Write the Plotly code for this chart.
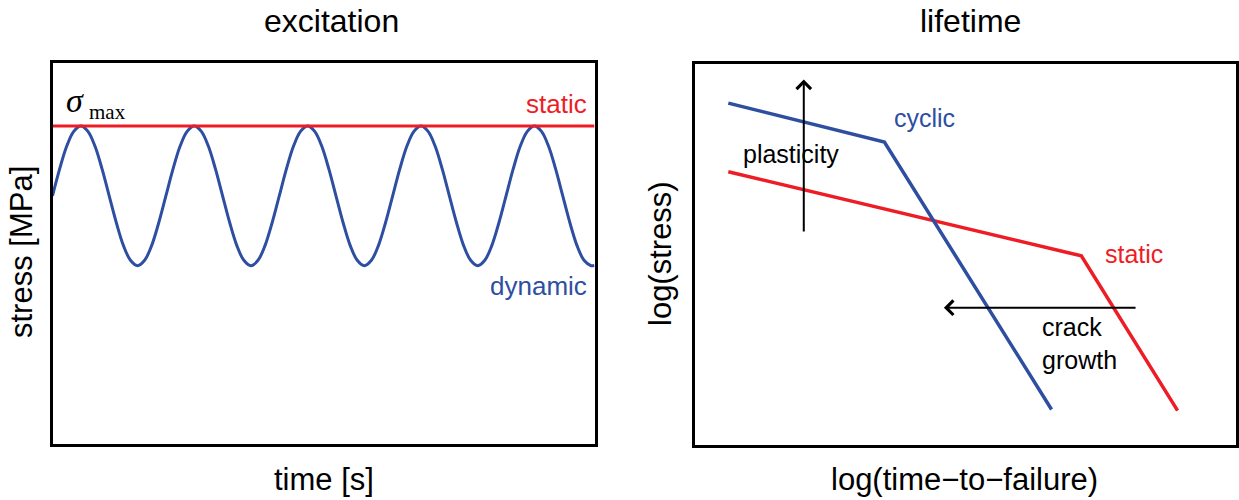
import numpy as np
import plotly.graph_objects as go

W, H = 1239, 500

# --- excitation panel data ---------------------------------------------
# time [s] sampled every sixteenth of a load cycle (period = 1 s)
time_s = np.arange(0, 4.751, 0.0625).tolist() + [4.78]
# one load cycle of the dynamic stress [MPa], starting at the mean level
cycle_stress = [78, 86.4, 93.6, 98.3, 100, 98.3, 93.6, 86.4,
                78, 69.6, 62.4, 57.7, 56, 57.7, 62.4, 69.6]
dynamic_stress = cycle_stress * 4 + cycle_stress[:13] + [56.1]
# static stress = sigma_max
static_time = [0, 4.78]
static_stress = [100, 100]

# --- lifetime panel data (log-log, arbitrary units) --------------------
cyclic_logt = [0.625, 3.51, 6.60]
cyclic_logs = [8.96, 7.94, 0.92]
static_logt = [0.625, 7.15, 8.93]
static_logs = [7.16, 4.95, 0.89]

RED = "#EE1D25"
BLUE = "#2E4EA2"
SANS = "Liberation Sans, Arial, sans-serif"
SERIF = "Liberation Serif, Times New Roman, serif"


def px(x):
    return x / W


def py(y):
    return 1 - y / H


fig = go.Figure()

fig.add_trace(go.Scatter(x=time_s, y=dynamic_stress, mode="lines",
                         line=dict(color=BLUE, width=3, shape="spline", smoothing=1),
                         xaxis="x", yaxis="y", hoverinfo="skip"))
fig.add_trace(go.Scatter(x=static_time, y=static_stress, mode="lines",
                         line=dict(color=RED, width=3),
                         xaxis="x", yaxis="y", hoverinfo="skip"))

fig.add_trace(go.Scatter(x=static_logt, y=static_logs, mode="lines",
                         line=dict(color=RED, width=3.5),
                         xaxis="x2", yaxis="y2", hoverinfo="skip"))
fig.add_trace(go.Scatter(x=cyclic_logt, y=cyclic_logs, mode="lines",
                         line=dict(color=BLUE, width=3.5),
                         xaxis="x2", yaxis="y2", hoverinfo="skip"))

frame = dict(showline=True, linecolor="black", linewidth=3, mirror=True,
             showgrid=False, zeroline=False, showticklabels=False,
             ticks="", fixedrange=True)

fig.update_layout(
    width=W, height=H,
    margin=dict(l=0, r=0, t=0, b=0),
    paper_bgcolor="white", plot_bgcolor="white",
    showlegend=False,
    xaxis=dict(domain=[px(52.5), px(594.5)], range=[0, 4.78], anchor="y", **frame),
    yaxis=dict(domain=[py(443.5), py(62.5)], range=[0, 120], anchor="x", **frame),
    xaxis2=dict(domain=[px(694.5), px(1235.5)], range=[0, 10], anchor="y2", **frame),
    yaxis2=dict(domain=[py(444.5), py(63.5)], range=[0, 10], anchor="x2", **frame),
)

ann = []


def label(text, x, y, size, color="black", family=SANS, xanchor="center",
          angle=0, align="center"):
    ann.append(dict(text=text, x=px(x), y=py(y), xref="paper", yref="paper",
                    showarrow=False, xanchor=xanchor, yanchor="middle",
                    textangle=angle, align=align,
                    font=dict(size=size, color=color, family=family)))


# panel titles and axis titles
label("excitation", 331, 21, 32)
label("lifetime", 970, 21, 32)
label("time [s]", 324, 479, 31)
label("log(time\u2212to\u2212failure)", 964, 479, 31)
label("stress [MPa]", 21, 252, 31, angle=-90)
label("log(stress)", 660, 254, 31, angle=-90)

# excitation panel labels
label("<i>\u03c3</i>", 75, 101, 34, family=SERIF)
label("max", 87, 112, 21, family=SERIF, xanchor="left")
label("static", 589, 104, 26, color=RED, xanchor="right")
label("dynamic", 589, 286, 26, color=BLUE, xanchor="right")

# lifetime panel labels
label("cyclic", 892, 118, 25, color=BLUE, xanchor="left")
label("plasticity", 741, 154, 25, xanchor="left")
label("static", 1103, 254, 25, color=RED, xanchor="left")
label("crack<br>growth", 1040, 343, 25, xanchor="left", align="left")

# arrows in the lifetime panel
ann.append(dict(x=2.02, y=9.58, ax=2.02, ay=5.55, xref="x2", yref="y2",
                axref="x2", ayref="y2", text="", showarrow=True,
                arrowhead=4, arrowsize=1.4, arrowwidth=2, arrowcolor="black",
                standoff=0, startstandoff=0))
ann.append(dict(x=4.61, y=3.59, ax=8.18, ay=3.59, xref="x2", yref="y2",
                axref="x2", ayref="y2", text="", showarrow=True,
                arrowhead=4, arrowsize=1.4, arrowwidth=2, arrowcolor="black",
                standoff=0, startstandoff=0))

fig.update_layout(annotations=ann)
fig.write_html("out.html")
